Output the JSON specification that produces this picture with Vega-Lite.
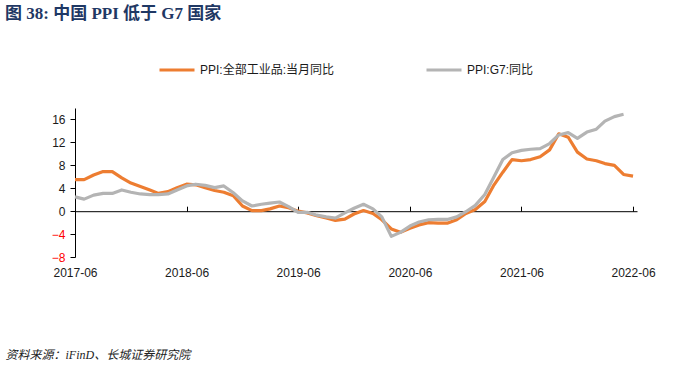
{
  "$schema": "https://vega.github.io/schema/vega-lite/v6.json",
  "width": 562,
  "height": 149,
  "autosize": {"type": "none"},
  "padding": {"left": 75, "top": 108, "right": 37, "bottom": 108},
  "background": "white",
  "config": {"view": {"stroke": null}},
  "title": {
    "text": "图 38:  中国 PPI 低于 G7 国家",
    "anchor": "start",
    "frame": "group",
    "dx": -70,
    "offset": 28,
    "font": "Liberation Serif, Noto Sans CJK SC",
    "fontSize": 17,
    "fontWeight": "bold",
    "color": "#1F3864"
  },
  "data": {
    "values": [
      {"date": "2017-06-01", "series": "PPI:全部工业品:当月同比", "value": 5.5},
      {"date": "2017-07-01", "series": "PPI:全部工业品:当月同比", "value": 5.5},
      {"date": "2017-08-01", "series": "PPI:全部工业品:当月同比", "value": 6.3},
      {"date": "2017-09-01", "series": "PPI:全部工业品:当月同比", "value": 6.9},
      {"date": "2017-10-01", "series": "PPI:全部工业品:当月同比", "value": 6.9},
      {"date": "2017-11-01", "series": "PPI:全部工业品:当月同比", "value": 5.8},
      {"date": "2017-12-01", "series": "PPI:全部工业品:当月同比", "value": 4.9},
      {"date": "2018-01-01", "series": "PPI:全部工业品:当月同比", "value": 4.3},
      {"date": "2018-02-01", "series": "PPI:全部工业品:当月同比", "value": 3.7},
      {"date": "2018-03-01", "series": "PPI:全部工业品:当月同比", "value": 3.1},
      {"date": "2018-04-01", "series": "PPI:全部工业品:当月同比", "value": 3.4},
      {"date": "2018-05-01", "series": "PPI:全部工业品:当月同比", "value": 4.1},
      {"date": "2018-06-01", "series": "PPI:全部工业品:当月同比", "value": 4.7},
      {"date": "2018-07-01", "series": "PPI:全部工业品:当月同比", "value": 4.6},
      {"date": "2018-08-01", "series": "PPI:全部工业品:当月同比", "value": 4.1},
      {"date": "2018-09-01", "series": "PPI:全部工业品:当月同比", "value": 3.6},
      {"date": "2018-10-01", "series": "PPI:全部工业品:当月同比", "value": 3.3},
      {"date": "2018-11-01", "series": "PPI:全部工业品:当月同比", "value": 2.7},
      {"date": "2018-12-01", "series": "PPI:全部工业品:当月同比", "value": 0.9},
      {"date": "2019-01-01", "series": "PPI:全部工业品:当月同比", "value": 0.1},
      {"date": "2019-02-01", "series": "PPI:全部工业品:当月同比", "value": 0.1},
      {"date": "2019-03-01", "series": "PPI:全部工业品:当月同比", "value": 0.4},
      {"date": "2019-04-01", "series": "PPI:全部工业品:当月同比", "value": 0.9},
      {"date": "2019-05-01", "series": "PPI:全部工业品:当月同比", "value": 0.6},
      {"date": "2019-06-01", "series": "PPI:全部工业品:当月同比", "value": 0.0},
      {"date": "2019-07-01", "series": "PPI:全部工业品:当月同比", "value": -0.3},
      {"date": "2019-08-01", "series": "PPI:全部工业品:当月同比", "value": -0.8},
      {"date": "2019-09-01", "series": "PPI:全部工业品:当月同比", "value": -1.2},
      {"date": "2019-10-01", "series": "PPI:全部工业品:当月同比", "value": -1.6},
      {"date": "2019-11-01", "series": "PPI:全部工业品:当月同比", "value": -1.4},
      {"date": "2019-12-01", "series": "PPI:全部工业品:当月同比", "value": -0.5},
      {"date": "2020-01-01", "series": "PPI:全部工业品:当月同比", "value": 0.1},
      {"date": "2020-02-01", "series": "PPI:全部工业品:当月同比", "value": -0.4},
      {"date": "2020-03-01", "series": "PPI:全部工业品:当月同比", "value": -1.5},
      {"date": "2020-04-01", "series": "PPI:全部工业品:当月同比", "value": -3.1},
      {"date": "2020-05-01", "series": "PPI:全部工业品:当月同比", "value": -3.7},
      {"date": "2020-06-01", "series": "PPI:全部工业品:当月同比", "value": -3.0},
      {"date": "2020-07-01", "series": "PPI:全部工业品:当月同比", "value": -2.4},
      {"date": "2020-08-01", "series": "PPI:全部工业品:当月同比", "value": -2.0},
      {"date": "2020-09-01", "series": "PPI:全部工业品:当月同比", "value": -2.1},
      {"date": "2020-10-01", "series": "PPI:全部工业品:当月同比", "value": -2.1},
      {"date": "2020-11-01", "series": "PPI:全部工业品:当月同比", "value": -1.5},
      {"date": "2020-12-01", "series": "PPI:全部工业品:当月同比", "value": -0.4},
      {"date": "2021-01-01", "series": "PPI:全部工业品:当月同比", "value": 0.3},
      {"date": "2021-02-01", "series": "PPI:全部工业品:当月同比", "value": 1.7},
      {"date": "2021-03-01", "series": "PPI:全部工业品:当月同比", "value": 4.4},
      {"date": "2021-04-01", "series": "PPI:全部工业品:当月同比", "value": 6.8},
      {"date": "2021-05-01", "series": "PPI:全部工业品:当月同比", "value": 9.0},
      {"date": "2021-06-01", "series": "PPI:全部工业品:当月同比", "value": 8.8},
      {"date": "2021-07-01", "series": "PPI:全部工业品:当月同比", "value": 9.0},
      {"date": "2021-08-01", "series": "PPI:全部工业品:当月同比", "value": 9.5},
      {"date": "2021-09-01", "series": "PPI:全部工业品:当月同比", "value": 10.7},
      {"date": "2021-10-01", "series": "PPI:全部工业品:当月同比", "value": 13.5},
      {"date": "2021-11-01", "series": "PPI:全部工业品:当月同比", "value": 12.9},
      {"date": "2021-12-01", "series": "PPI:全部工业品:当月同比", "value": 10.3},
      {"date": "2022-01-01", "series": "PPI:全部工业品:当月同比", "value": 9.1},
      {"date": "2022-02-01", "series": "PPI:全部工业品:当月同比", "value": 8.8},
      {"date": "2022-03-01", "series": "PPI:全部工业品:当月同比", "value": 8.3},
      {"date": "2022-04-01", "series": "PPI:全部工业品:当月同比", "value": 8.0},
      {"date": "2022-05-01", "series": "PPI:全部工业品:当月同比", "value": 6.4},
      {"date": "2022-06-01", "series": "PPI:全部工业品:当月同比", "value": 6.1},
      {"date": "2017-06-01", "series": "PPI:G7:同比", "value": 2.5},
      {"date": "2017-07-01", "series": "PPI:G7:同比", "value": 2.1},
      {"date": "2017-08-01", "series": "PPI:G7:同比", "value": 2.8},
      {"date": "2017-09-01", "series": "PPI:G7:同比", "value": 3.1},
      {"date": "2017-10-01", "series": "PPI:G7:同比", "value": 3.1},
      {"date": "2017-11-01", "series": "PPI:G7:同比", "value": 3.7},
      {"date": "2017-12-01", "series": "PPI:G7:同比", "value": 3.3},
      {"date": "2018-01-01", "series": "PPI:G7:同比", "value": 3.0},
      {"date": "2018-02-01", "series": "PPI:G7:同比", "value": 2.9},
      {"date": "2018-03-01", "series": "PPI:G7:同比", "value": 2.9},
      {"date": "2018-04-01", "series": "PPI:G7:同比", "value": 3.0},
      {"date": "2018-05-01", "series": "PPI:G7:同比", "value": 3.7},
      {"date": "2018-06-01", "series": "PPI:G7:同比", "value": 4.4},
      {"date": "2018-07-01", "series": "PPI:G7:同比", "value": 4.7},
      {"date": "2018-08-01", "series": "PPI:G7:同比", "value": 4.5},
      {"date": "2018-09-01", "series": "PPI:G7:同比", "value": 4.1},
      {"date": "2018-10-01", "series": "PPI:G7:同比", "value": 4.4},
      {"date": "2018-11-01", "series": "PPI:G7:同比", "value": 3.2},
      {"date": "2018-12-01", "series": "PPI:G7:同比", "value": 1.8},
      {"date": "2019-01-01", "series": "PPI:G7:同比", "value": 0.9},
      {"date": "2019-02-01", "series": "PPI:G7:同比", "value": 1.2},
      {"date": "2019-03-01", "series": "PPI:G7:同比", "value": 1.4},
      {"date": "2019-04-01", "series": "PPI:G7:同比", "value": 1.6},
      {"date": "2019-05-01", "series": "PPI:G7:同比", "value": 0.8},
      {"date": "2019-06-01", "series": "PPI:G7:同比", "value": -0.2},
      {"date": "2019-07-01", "series": "PPI:G7:同比", "value": -0.2},
      {"date": "2019-08-01", "series": "PPI:G7:同比", "value": -0.7},
      {"date": "2019-09-01", "series": "PPI:G7:同比", "value": -1.0},
      {"date": "2019-10-01", "series": "PPI:G7:同比", "value": -1.2},
      {"date": "2019-11-01", "series": "PPI:G7:同比", "value": -0.3},
      {"date": "2019-12-01", "series": "PPI:G7:同比", "value": 0.5},
      {"date": "2020-01-01", "series": "PPI:G7:同比", "value": 1.2},
      {"date": "2020-02-01", "series": "PPI:G7:同比", "value": 0.4},
      {"date": "2020-03-01", "series": "PPI:G7:同比", "value": -1.0},
      {"date": "2020-04-01", "series": "PPI:G7:同比", "value": -4.4},
      {"date": "2020-05-01", "series": "PPI:G7:同比", "value": -3.7},
      {"date": "2020-06-01", "series": "PPI:G7:同比", "value": -2.6},
      {"date": "2020-07-01", "series": "PPI:G7:同比", "value": -1.9},
      {"date": "2020-08-01", "series": "PPI:G7:同比", "value": -1.5},
      {"date": "2020-09-01", "series": "PPI:G7:同比", "value": -1.45},
      {"date": "2020-10-01", "series": "PPI:G7:同比", "value": -1.45},
      {"date": "2020-11-01", "series": "PPI:G7:同比", "value": -1.0},
      {"date": "2020-12-01", "series": "PPI:G7:同比", "value": -0.1},
      {"date": "2021-01-01", "series": "PPI:G7:同比", "value": 1.0},
      {"date": "2021-02-01", "series": "PPI:G7:同比", "value": 2.9},
      {"date": "2021-03-01", "series": "PPI:G7:同比", "value": 5.8},
      {"date": "2021-04-01", "series": "PPI:G7:同比", "value": 9.0},
      {"date": "2021-05-01", "series": "PPI:G7:同比", "value": 10.2},
      {"date": "2021-06-01", "series": "PPI:G7:同比", "value": 10.6},
      {"date": "2021-07-01", "series": "PPI:G7:同比", "value": 10.8},
      {"date": "2021-08-01", "series": "PPI:G7:同比", "value": 10.9},
      {"date": "2021-09-01", "series": "PPI:G7:同比", "value": 11.8},
      {"date": "2021-10-01", "series": "PPI:G7:同比", "value": 13.3},
      {"date": "2021-11-01", "series": "PPI:G7:同比", "value": 13.7},
      {"date": "2021-12-01", "series": "PPI:G7:同比", "value": 12.7},
      {"date": "2022-01-01", "series": "PPI:G7:同比", "value": 13.8},
      {"date": "2022-02-01", "series": "PPI:G7:同比", "value": 14.3},
      {"date": "2022-03-01", "series": "PPI:G7:同比", "value": 15.7},
      {"date": "2022-04-01", "series": "PPI:G7:同比", "value": 16.5},
      {"date": "2022-05-01", "series": "PPI:G7:同比", "value": 16.9}
    ]
  },
  "mark": {"type": "line", "strokeWidth": 3.2, "strokeJoin": "round"},
  "encoding": {
    "x": {
      "field": "date",
      "type": "temporal",
      "scale": {
        "type": "utc",
        "domain": [
          {"year": 2017, "month": 6, "date": 1, "utc": true},
          {"year": 2022, "month": 6, "date": 14, "utc": true}
        ]
      },
      "axis": {
        "values": [
          {"year": 2017, "month": 6, "date": 1, "utc": true},
          {"year": 2018, "month": 6, "date": 1, "utc": true},
          {"year": 2019, "month": 6, "date": 1, "utc": true},
          {"year": 2020, "month": 6, "date": 1, "utc": true},
          {"year": 2021, "month": 6, "date": 1, "utc": true},
          {"year": 2022, "month": 6, "date": 1, "utc": true}
        ],
        "format": "%Y-%m",
        "offset": -45.8,
        "tickSize": -5,
        "labelPadding": 61,
        "grid": false,
        "domainColor": "#000000",
        "tickColor": "#000000",
        "labelColor": "#1a1a1a",
        "labelFont": "Liberation Sans",
        "labelFontSize": 12,
        "labelFlush": false,
        "labelOverlap": false,
        "title": "资料来源：iFinD、长城证券研究院",
        "titleX": -70,
        "titleY": 147,
        "titleAlign": "left",
        "titleAnchor": "start",
        "titleBaseline": "alphabetic",
        "titleFont": "Liberation Serif, Noto Sans CJK SC",
        "titleFontSize": 12,
        "titleFontStyle": "italic",
        "titleFontWeight": "normal",
        "titleColor": "#222222"
      }
    },
    "y": {
      "field": "value",
      "type": "quantitative",
      "scale": {"domain": [-8, 18], "nice": false, "zero": false},
      "axis": {
        "values": [-8, -4, 0, 4, 8, 12, 16],
        "grid": false,
        "title": null,
        "domainColor": "#000000",
        "tickColor": "#000000",
        "tickSize": 5,
        "labelPadding": 5,
        "labelFont": "Liberation Sans",
        "labelFontSize": 12,
        "labelColor": {"condition": {"test": "datum.value < 0", "value": "#FF0000"}, "value": "#1a1a1a"}
      }
    },
    "color": {
      "field": "series",
      "type": "nominal",
      "sort": null,
      "scale": {
        "domain": ["PPI:全部工业品:当月同比", "PPI:G7:同比"],
        "range": ["#ED7D31", "#B4B4B4"]
      },
      "legend": {
        "orient": "none",
        "legendX": 83,
        "legendY": -57,
        "direction": "horizontal",
        "title": null,
        "symbolType": "stroke",
        "symbolSize": 1225,
        "symbolStrokeWidth": 3,
        "labelFont": "Liberation Sans, Noto Sans CJK SC",
        "labelFontSize": 12,
        "labelColor": "#1a1a1a",
        "labelOffset": 4,
        "columnPadding": 85
      }
    }
  }
}
